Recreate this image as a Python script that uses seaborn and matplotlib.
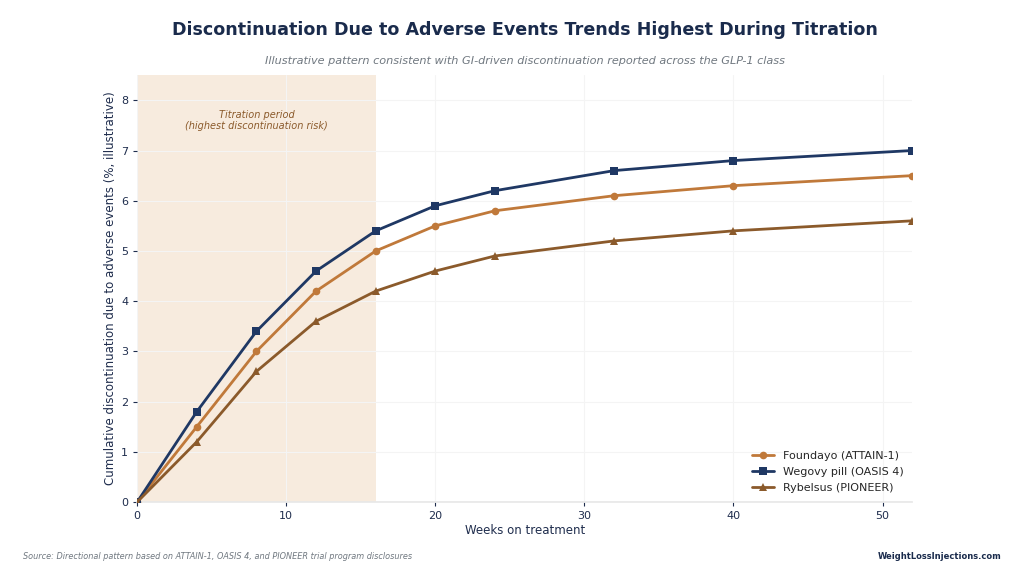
import matplotlib
matplotlib.use("Agg")
import matplotlib.pyplot as plt
import seaborn as sns
import pandas as pd

weeks = [0, 4, 8, 12, 16, 20, 24, 32, 40, 52]
foundayo = [0, 1.5, 3.0, 4.2, 5.0, 5.5, 5.8, 6.1, 6.3, 6.5]
wegovy = [0, 1.8, 3.4, 4.6, 5.4, 5.9, 6.2, 6.6, 6.8, 7.0]
rybelsus = [0, 1.2, 2.6, 3.6, 4.2, 4.6, 4.9, 5.2, 5.4, 5.6]
series_names = ["Foundayo (ATTAIN-1)", "Wegovy pill (OASIS 4)", "Rybelsus (PIONEER)"]
colors = ["#C0793A", "#1F3864", "#8B5A2B"]
markers = ["o", "s", "^"]

sns.set_theme(style="white")
plt.rcParams['font.family'] = ['DejaVu Sans']

rows = []
for name, vals in zip(series_names, [foundayo, wegovy, rybelsus]):
    for w, v in zip(weeks, vals):
        rows.append({"Weeks": w, "Value": v, "Series": name})
df = pd.DataFrame(rows)

fig = plt.figure(figsize=(10.24, 5.83), dpi=100)
ax = fig.add_axes([0.134, 0.139, 0.757, 0.732])

ax.axvspan(0, 16, color="#F5E6D6", alpha=0.8, zorder=0, lw=0)

sns.lineplot(data=df, x="Weeks", y="Value", hue="Series", style="Series",
             palette=colors, markers=markers, dashes=False, linewidth=2.0,
             markersize=5.5, markeredgewidth=0, ax=ax, hue_order=series_names,
             style_order=series_names, zorder=3)

ax.set_xlim(0, 52)
ax.set_ylim(0, 8.5)
ax.set_xticks([0, 10, 20, 30, 40, 50])
ax.set_yticks(range(0, 9))
ax.grid(True, color="#F4F4F4", linewidth=0.8)
ax.set_axisbelow(True)
for s in ["top", "right", "left"]:
    ax.spines[s].set_visible(False)
ax.spines["bottom"].set_color("#E8E8E8")
ax.tick_params(axis="both", colors="#1F2D4D", labelsize=8, length=3, width=0.8, left=True, bottom=True)
ax.set_xlabel("Weeks on treatment", fontsize=8.5, color="#1F2D4D", labelpad=2)
ax.set_ylabel("Cumulative discontinuation due to adverse events (%, illustrative)", fontsize=8.5,
              color="#1F2D4D", labelpad=3)

ax.text(8, 7.6, "Titration period\n(highest discontinuation risk)", ha="center", va="center",
        fontsize=7, style="italic", color="#8B5A2B")

leg = ax.legend(loc="lower right", frameon=False, fontsize=8, borderaxespad=0.4,
                labelspacing=0.55)
for line in leg.get_lines():
    line.set_linewidth(2.0)

fig.text(0.5125, 0.948, "Discontinuation Due to Adverse Events Trends Highest During Titration",
         ha="center", va="center", fontsize=12.6, fontweight="bold", color="#1A2B4C")
fig.text(0.5125, 0.896, "Illustrative pattern consistent with GI-driven discontinuation reported across the GLP-1 class",
         ha="center", va="center", fontsize=8.1, style="italic", color="#707880")
fig.text(0.022, 0.045, "Source: Directional pattern based on ATTAIN-1, OASIS 4, and PIONEER trial program disclosures",
         ha="left", va="center", fontsize=5.9, style="italic", color="#707880")
fig.text(0.978, 0.045, "WeightLossInjections.com", ha="right", va="center", fontsize=6,
         fontweight="bold", color="#1A2B4C")

fig.savefig("out.png", dpi=100)
